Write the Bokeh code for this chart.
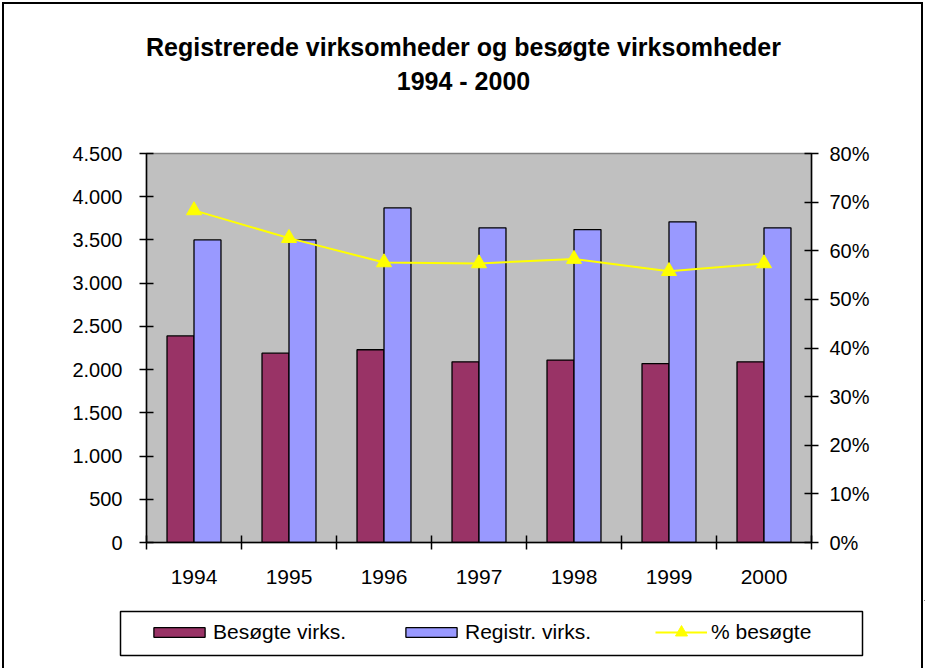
from bokeh.plotting import figure
from bokeh.layouts import column
from bokeh.models import (Range1d, LinearAxis, FixedTicker, Legend, LegendItem, Label,
                          BoxAnnotation, ColumnDataSource, InlineStyleSheet)
from bokeh.transform import dodge
from bokeh.embed import file_html
from bokeh.resources import INLINE

# ---- data ----
years = ["1994", "1995", "1996", "1997", "1998", "1999", "2000"]
besogte_virks = [2390, 2190, 2230, 2090, 2110, 2070, 2090]
registr_virks = [3500, 3500, 3870, 3640, 3620, 3710, 3640]
pct_besogte = [68.3, 62.6, 57.6, 57.4, 58.3, 55.8, 57.4]
series_names = ["Besøgte virks.", "Registr. virks.", "% besøgte"]
left_ticks = [0, 500, 1000, 1500, 2000, 2500, 3000, 3500, 4000, 4500]
left_tick_labels = ["0", "500", "1.000", "1.500", "2.000", "2.500", "3.000", "3.500", "4.000", "4.500"]
right_ticks = [0, 10, 20, 30, 40, 50, 60, 70, 80]
right_tick_labels = ["0%", "10%", "20%", "30%", "40%", "50%", "60%", "70%", "80%"]
title_lines = ["Registrerede virksomheder og besøgte virksomheder", "1994 - 2000"]

FONT = "Liberation Sans"
MAROON = "#993366"
BLUE = "#9999FF"
YELLOW = "#FFFF00"

pos = list(range(1, len(years) + 1))
src = ColumnDataSource(dict(pos=pos, year=years, besogte=besogte_virks,
                            registr=registr_virks, pct=pct_besogte))

frame_css = InlineStyleSheet(css="""
:host {
  background-color: white;
  background-image: linear-gradient(black, black), linear-gradient(black, black), linear-gradient(black, black);
  background-size: 2px 100%, 2px 100%, calc(100% - 4px) 2px;
  background-position: left 2px top 2px, right 2px top 2px, left 2px top 2px;
  background-repeat: no-repeat;
}
""")

W = 925
H_HEAD, H_MAIN, H_LEG = 120, 480, 68


def blank_fig(h):
    f = figure(width=W, height=h, output_backend="svg", toolbar_location=None, title=None,
               x_range=Range1d(-10, -9), y_range=Range1d(-10, -9),
               x_axis_type=None, y_axis_type=None,
               min_border_left=0, min_border_right=0, min_border_top=0, min_border_bottom=0,
               background_fill_color=None, border_fill_color=None)
    f.outline_line_color = None
    f.frame_align = False
    return f


# ---- header with the two title lines ----
head = blank_fig(H_HEAD)
head.add_layout(Label(x=463, y=H_HEAD - 46, x_units="screen", y_units="screen", text=title_lines[0],
                      text_align="center", text_baseline="middle", text_font=FONT,
                      text_font_style="bold", text_font_size="25px", text_color="black"))
head.add_layout(Label(x=463, y=H_HEAD - 80, x_units="screen", y_units="screen", text=title_lines[1],
                      text_align="center", text_baseline="middle", text_font=FONT,
                      text_font_style="bold", text_font_size="25px", text_color="black"))

# ---- main chart ----
p = figure(width=W, height=H_MAIN, output_backend="svg", toolbar_location=None, title=None,
           x_range=Range1d(0.5, len(years) + 0.5), y_range=Range1d(0, 4500),
           x_axis_type=None, y_axis_type=None,
           min_border_left=146, min_border_right=114, min_border_top=33, min_border_bottom=58,
           background_fill_color="#C0C0C0", border_fill_color=None)
p.outline_line_color = "#808080"
p.outline_line_width = 1.5
p.frame_align = False
p.extra_y_ranges = {"pct": Range1d(0, 80)}

xaxis = LinearAxis(
    ticker=FixedTicker(ticks=pos, minor_ticks=[i + 0.5 for i in range(len(years) + 1)]),
    major_label_overrides={k: y for k, y in zip(pos, years)},
    major_tick_in=0, major_tick_out=0, minor_tick_in=7, minor_tick_out=7,
    minor_tick_line_color="black", minor_tick_line_width=1.5,
    axis_line_color="black", axis_line_width=1.5,
    major_label_text_font=FONT, major_label_text_font_size="21px",
    major_label_text_color="black", major_label_standoff=20)
p.add_layout(xaxis, "below")

yaxis = LinearAxis(
    ticker=FixedTicker(ticks=left_ticks, minor_ticks=[]),
    major_label_overrides={k: v for k, v in zip(left_ticks, left_tick_labels)},
    major_tick_in=7, major_tick_out=7, major_tick_line_width=1.5,
    axis_line_color="black", axis_line_width=1.5,
    major_label_text_font=FONT, major_label_text_font_size="20px",
    major_label_text_color="black", major_label_standoff=17)
p.add_layout(yaxis, "left")

raxis = LinearAxis(
    y_range_name="pct",
    ticker=FixedTicker(ticks=right_ticks, minor_ticks=[]),
    major_label_overrides={k: v for k, v in zip(right_ticks, right_tick_labels)},
    major_tick_in=7, major_tick_out=7, major_tick_line_width=1.5,
    axis_line_color="black", axis_line_width=1.5,
    major_label_text_font=FONT, major_label_text_font_size="20px",
    major_label_text_color="black", major_label_standoff=11)
p.add_layout(raxis, "right")

bar_kw = dict(width=0.284, source=src, line_color="black", line_width=1.3)
p.vbar(x=dodge("pos", -0.142), top="besogte", fill_color=MAROON, **bar_kw)
p.vbar(x=dodge("pos", 0.142), top="registr", fill_color=BLUE, **bar_kw)
line_kw = dict(source=src, line_color=YELLOW, line_width=2)
mark_kw = dict(source=src, marker="triangle", size=15, fill_color=YELLOW, line_color=YELLOW)
p.line("pos", "pct", y_range_name="pct", **line_kw)
p.scatter("pos", "pct", y_range_name="pct", **mark_kw)

# ---- legend strip (same series, drawn outside its visible range; only the legend shows) ----
leg = blank_fig(H_LEG)
lb1 = leg.vbar(x="pos", top="besogte", fill_color=MAROON, **bar_kw)
lb2 = leg.vbar(x="pos", top="registr", fill_color=BLUE, **bar_kw)
ll3 = leg.line("pos", "pct", **line_kw)
lm3 = leg.scatter("pos", "pct", **mark_kw)

text_kw = dict(label_text_font=FONT, label_text_font_size="21px", label_text_color="black",
               orientation="horizontal", padding=0, margin=0, spacing=0,
               border_line_alpha=0, background_fill_alpha=0)
legend_bars = Legend(items=[LegendItem(label=series_names[0], renderers=[lb1]),
                            LegendItem(label=series_names[1], renderers=[lb2])],
                     location=(147, 24), glyph_width=64, glyph_height=12, label_standoff=2,
                     label_width=186, **text_kw)
legend_line = Legend(items=[LegendItem(label=series_names[2], renderers=[ll3, lm3])],
                     location=(655, 21), glyph_width=52, glyph_height=30, label_standoff=4,
                     **text_kw)
leg.add_layout(legend_bars)
leg.add_layout(legend_line)
leg.add_layout(BoxAnnotation(left=120, right=862, top=H_LEG - 11, bottom=H_LEG - 55,
                             left_units="screen", right_units="screen",
                             top_units="screen", bottom_units="screen",
                             fill_color=None, fill_alpha=0,
                             line_color="black", line_alpha=1, line_width=1.5))

layout = column(head, p, leg, spacing=0, stylesheets=[frame_css])
open("out.html", "w").write(file_html(layout, INLINE))
